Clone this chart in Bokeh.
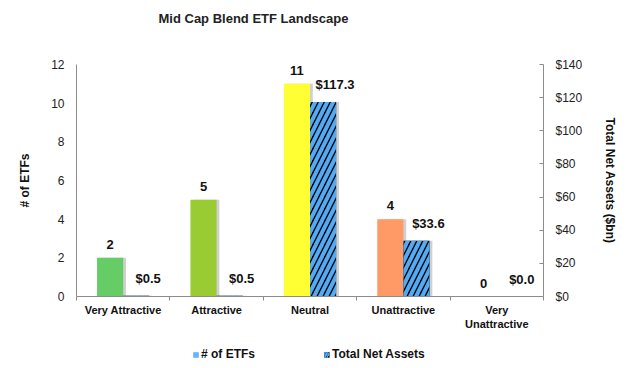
import numpy as np
from bokeh.plotting import figure
from bokeh.layouts import column
from bokeh.models import (ColumnDataSource, Range1d, LinearAxis, FixedTicker,
                          LabelSet, Label, Legend, LegendItem, PrintfTickFormatter)
from bokeh.core.properties import value
from bokeh.transform import dodge
from bokeh.embed import file_html
from bokeh.resources import INLINE

# ---- data ----
title_text = "Mid Cap Blend ETF Landscape"
categories = ["Very Attractive", "Attractive", "Neutral", "Unattractive", "Very\nUnattractive"]
etf_counts = [2, 5, 11, 4, 0]
net_assets = [0.5, 0.5, 117.3, 33.6, 0.0]
count_labels = ["2", "5", "11", "4", "0"]
asset_labels = ["$0.5", "$0.5", "$117.3", "$33.6", "$0.0"]
bar_colors = ["#66CC66", "#99CC33", "#FFFF33", "#FF9966", "#FF4D4D"]
left_ticks = [0, 2, 4, 6, 8, 10, 12]
right_ticks = [0, 20, 40, 60, 80, 100, 120, 140]
legend_labels = ["# of ETFs", "Total Net Assets"]

FONT = "Liberation Sans"
BW = 0.28
HATCH_BLUE = "#55A9F2"


def strip(h):
    f = figure(width=622, height=h, x_range=Range1d(0, 1), y_range=Range1d(0, 1),
               output_backend="svg", toolbar_location=None,
               min_border_left=0, min_border_right=0, min_border_top=0, min_border_bottom=0)
    f.axis.visible = False
    f.xgrid.visible = False
    f.ygrid.visible = False
    f.outline_line_color = None
    return f


# title strip
tt = strip(28)
tt.add_layout(Label(x=82, y=10, x_units="screen", y_units="screen", text=title_text,
                    text_align="left", text_baseline="middle",
                    text_font=FONT, text_font_size="13px", text_font_style="bold",
                    text_color="#222222"))

xpos = list(np.arange(len(categories)) + 0.5)
src = ColumnDataSource(dict(x=xpos, cat=categories, n=etf_counts, a=net_assets,
                            nl=count_labels, al=asset_labels, c=bar_colors))

p = figure(width=622, height=316, x_range=Range1d(0, 5), y_range=Range1d(0, 12),
           output_backend="svg", toolbar_location=None,
           min_border_left=76, min_border_right=79, min_border_top=36, min_border_bottom=48)
p.extra_y_ranges = {"assets": Range1d(0, 140)}
p.outline_line_color = None
p.xgrid.visible = False
p.ygrid.visible = False
p.background_fill_color = "white"

# shadows
p.vbar(x=dodge("x", -BW / 2 + 0.03, range=p.x_range), top="n", width=BW, source=src,
       fill_color="#b0b0b0", fill_alpha=0.6, line_color=None)
p.vbar(x=dodge("x", BW / 2 + 0.03, range=p.x_range), top="a", width=BW, source=src,
       y_range_name="assets", fill_color="#b0b0b0", fill_alpha=0.6, line_color=None)

# bars
p.vbar(x=dodge("x", -BW / 2, range=p.x_range), top="n", width=BW, source=src,
       fill_color="c", line_color=None)
p.vbar(x=dodge("x", BW / 2, range=p.x_range), top="a", width=BW, source=src,
       y_range_name="assets", fill_color="black", line_color=None,
       hatch_pattern="/", hatch_color=HATCH_BLUE, hatch_weight=4, hatch_scale=12)

# labels
p.add_layout(LabelSet(x=dodge("x", -BW / 2, range=p.x_range), y="n", text="nl", source=src,
                      text_align="center", text_baseline="bottom", y_offset=9,
                      text_font=value(FONT), text_font_size="13px", text_font_style="bold",
                      text_color="#111111"))
p.add_layout(LabelSet(x="x", y="a", text="al", source=src, y_range_name="assets",
                      text_align="center", text_baseline="bottom", x_offset=25, y_offset=10,
                      text_font=value(FONT), text_font_size="13px", text_font_style="bold",
                      text_color="#111111"))

# axes
AX = "#8c8c8c"
xa = p.xaxis[0]
xa.ticker = FixedTicker(ticks=xpos, minor_ticks=[0, 1, 2, 3, 4, 5])
xa.major_label_overrides = {float(x): c for x, c in zip(xpos, categories)}
xa.major_tick_in = 0
xa.major_tick_out = 0
xa.minor_tick_in = 0
xa.minor_tick_out = 4
xa.minor_tick_line_color = AX
xa.axis_line_color = AX
xa.major_label_standoff = 3
xa.major_label_text_font = FONT
xa.major_label_text_font_size = "11px"
xa.major_label_text_font_style = "bold"
xa.major_label_text_color = "#111111"

ya = p.yaxis[0]
ya.ticker = FixedTicker(ticks=left_ticks, minor_ticks=[])
ya.major_tick_in = 0
ya.major_tick_out = 0
ya.axis_line_color = AX
ya.major_label_standoff = 12
ya.major_label_text_font = FONT
ya.major_label_text_font_size = "12px"
ya.major_label_text_color = "#222222"
ya.axis_label = "# of ETFs"
ya.axis_label_text_font = FONT
ya.axis_label_text_font_size = "12px"
ya.axis_label_text_font_style = "bold"
ya.axis_label_text_color = "#111111"
ya.axis_label_standoff = 16

ra = LinearAxis(y_range_name="assets", ticker=FixedTicker(ticks=right_ticks, minor_ticks=[]),
                formatter=PrintfTickFormatter(format="$%d"))
ra.major_tick_in = 4
ra.major_tick_out = 0
ra.major_tick_line_color = AX
ra.axis_line_color = AX
ra.major_label_standoff = 12
ra.major_label_text_font = FONT
ra.major_label_text_font_size = "12px"
ra.major_label_text_color = "#222222"
ra.axis_label = "Total Net Assets ($bn)"
ra.axis_label_text_font = FONT
ra.axis_label_text_font_size = "12px"
ra.axis_label_text_font_style = "bold"
ra.axis_label_text_color = "#111111"
ra.axis_label_standoff = 18
p.add_layout(ra, "right")

# legend strip (separate small figure below the chart)
lg = strip(24)
leg_src = ColumnDataSource(dict(x=[-10.0], top=[0.0]))
r1 = lg.vbar(x="x", top="top", width=0.1, source=leg_src, fill_color="#66B2FF", line_color=None)
r2 = lg.vbar(x="x", top="top", width=0.1, source=leg_src, fill_color="black", line_color=None,
             hatch_pattern="/", hatch_color=HATCH_BLUE, hatch_weight=2, hatch_scale=5)
legend = Legend(items=[LegendItem(label=legend_labels[0], renderers=[r1]),
                       LegendItem(label=legend_labels[1], renderers=[r2])],
                orientation="horizontal", location=(116, 7),
                glyph_width=7, glyph_height=7, label_standoff=2, spacing=68,
                padding=0, margin=0, border_line_color=None, background_fill_alpha=0,
                label_text_font=FONT, label_text_font_size="12px",
                label_text_font_style="bold", label_text_color="#111111")
lg.add_layout(legend, "center")

layout = column(tt, p, lg, spacing=0)
open("out.html", "w").write(file_html(layout, INLINE))
